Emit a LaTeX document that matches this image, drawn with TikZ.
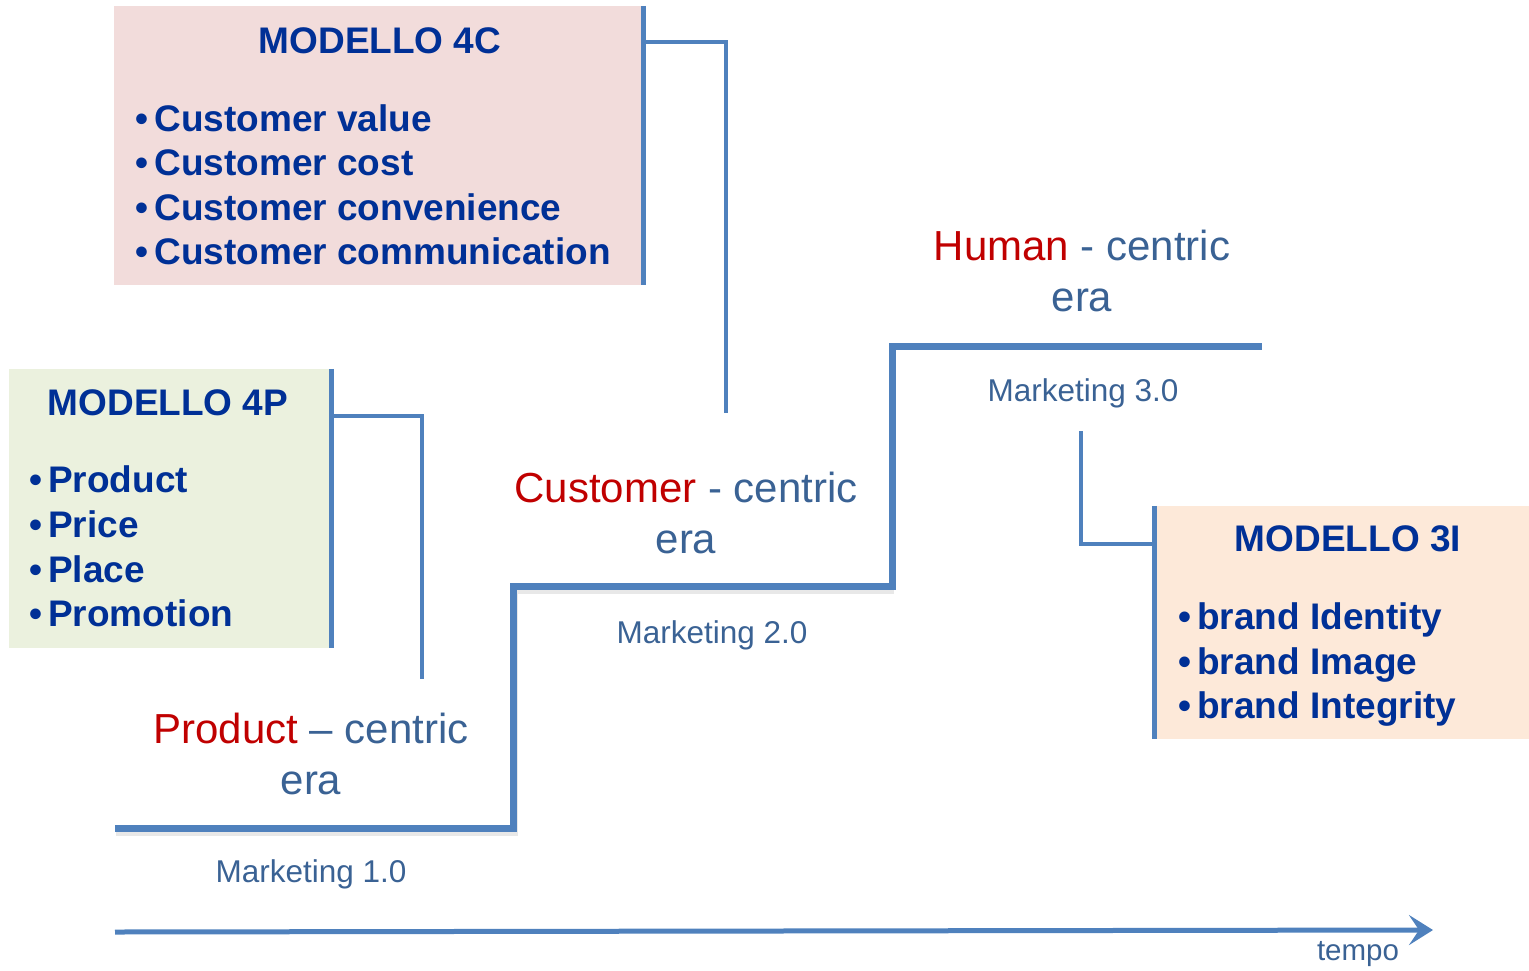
\documentclass[tikz,border=0pt]{standalone}
\usepackage{fontspec}
\setmainfont{Liberation Sans}
\usepackage{xcolor}
\usetikzlibrary{arrows.meta}
\definecolor{navy}{RGB}{0,48,150}
\definecolor{linkblue}{RGB}{79,129,189}
\definecolor{erablue}{RGB}{58,98,148}
\definecolor{erared}{RGB}{192,0,0}
\definecolor{pinkfill}{RGB}{242,220,219}
\definecolor{greenfill}{RGB}{235,241,222}
\definecolor{peachfill}{RGB}{253,233,217}

\begin{document}
\begin{tikzpicture}
   [
   x=1pt, y=-1pt,
   pinkbox/.style={rectangle, fill=pinkfill, minimum width=529pt, minimum height=279pt},
   greenbox/.style={rectangle, fill=greenfill, minimum width=322pt, minimum height=279pt},
   peachbox/.style={rectangle, fill=peachfill, minimum width=374pt, minimum height=233pt},
   titletext/.style={anchor=base, inner sep=0pt, text=navy, font=\fontsize{37}{44}\selectfont\bfseries},
   itemtext/.style={anchor=base west, inner sep=0pt, text=navy, font=\fontsize{37}{44}\selectfont\bfseries},
   eratext/.style={anchor=base, inner sep=0pt, align=center, text=erablue, font=\fontsize{42}{51}\selectfont},
   mktext/.style={anchor=base, inner sep=0pt, text=erablue, font=\fontsize{31.5}{38}\selectfont},
   edge/.style={draw=linkblue, line width=5pt},
   link/.style={draw=linkblue, line width=4pt},
   stair/.style={draw=linkblue, line width=7pt},
   ]
 \useasboundingbox (0,0) rectangle (1529,970);
 % boxes
 \node at (378.5,145.5) [pinkbox]  (box4c) {};
 \node at (170,508.5)   [greenbox] (box4p) {};
 \node at (1342,622.5)  [peachbox] (box3i) {};
 \draw[edge] (box4c.north east) -- (box4c.south east);
 \draw[edge] (box4p.north east) -- (box4p.south east);
 \draw[edge] (box3i.north west) -- (box3i.south west);
 % texts of the models
 \node at (380,53) [titletext] (t4c) {MODELLO 4C};
 \node at (135,131) [itemtext] (c1) {•\,Customer value};
 \node at (135,175) [itemtext] (c2) {•\,Customer cost};
 \node at (135,220) [itemtext] (c3) {•\,Customer convenience};
 \node at (135,264) [itemtext] (c4) {•\,Customer communication};
 \node at (168,415) [titletext] (t4p) {MODELLO 4P};
 \node at (29,492) [itemtext] (p1) {•\,Product};
 \node at (29,537) [itemtext] (p2) {•\,Price};
 \node at (29,582) [itemtext] (p3) {•\,Place};
 \node at (29,626) [itemtext] (p4) {•\,Promotion};
 \node at (1348,551) [titletext] (t3i) {MODELLO 3I};
 \node at (1178,629) [itemtext] (i1) {•\,brand Identity};
 \node at (1178,674) [itemtext] (i2) {•\,brand Image};
 \node at (1178,718) [itemtext] (i3) {•\,brand Integrity};
 % connectors
 \coordinate (k4c) at (726,42);
 \coordinate (e4c) at (726,413);
 \draw[link] (k4c -| box4c.east) -- (k4c) -- (e4c);
 \coordinate (k4p) at (422,416);
 \coordinate (e4p) at (422,679);
 \draw[link] (k4p -| box4p.east) -- (k4p) -- (e4p);
 \coordinate (e3i) at (1081,431);
 \coordinate (k3i) at (1081,544);
 \draw[link] (e3i) -- (k3i) -- (k3i -| box3i.west);
 % stairs
 \draw[gray!18, line width=6pt] (116,833) -- (515,833) -- (515,591) -- (894,591);
 \draw[stair] (115,828) -- (513,828) -- (513,586) -- (892,586) -- (892,346) -- (1262,346);
 % eras
 \node at (311,794) [eratext] (era1) {\textcolor{erared}{Product} – centric\\era};
 \node at (686,553) [eratext] (era2) {\textcolor{erared}{Customer} - centric\\era};
 \node at (1082,311) [eratext] (era3) {\textcolor{erared}{Human} - centric\\era};
 \node at (311,882) [mktext] (mk1) {Marketing 1.0};
 \node at (712,643) [mktext] (mk2) {Marketing 2.0};
 \node at (1083,401) [mktext] (mk3) {Marketing 3.0};
 % time axis
 \coordinate (t0) at (115,932);
 \coordinate (t1) at (1433,930);
 \draw[linkblue, line width=5pt, -{Stealth[length=24pt, width=30pt, inset=10pt]}] (t0) -- (t1);
 \node at (1358,960) [anchor=base, inner sep=0pt, text=erablue, font=\fontsize{29.5}{35}\selectfont] (tempo) {tempo};
\end{tikzpicture}
\end{document}
